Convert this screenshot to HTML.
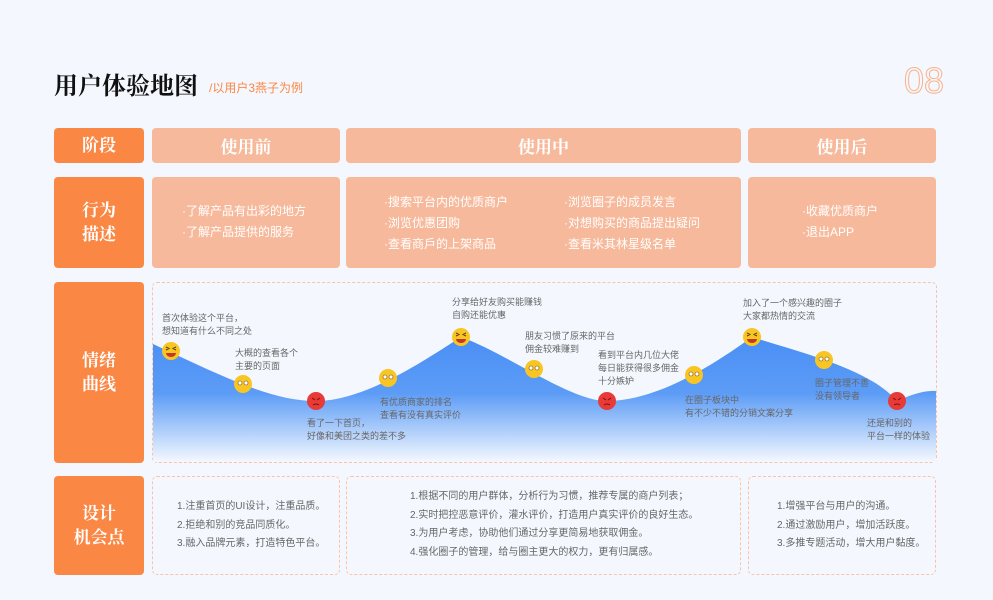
<!DOCTYPE html>
<html><head><meta charset="utf-8"><style>
*{margin:0;padding:0;box-sizing:border-box}
body{width:993px;height:600px;background:#f4f8fe;position:relative;overflow:hidden;font-family:"Liberation Sans","Noto Sans CJK SC",sans-serif}
.a{position:absolute}
.lab{position:absolute;left:54px;width:90px;background:#fb8744;border-radius:4px;color:#fff;font-family:"Liberation Serif","Noto Serif CJK SC",serif;font-weight:bold;font-size:17px;display:flex;align-items:center;justify-content:center;text-align:center;line-height:24px}
.st{position:absolute;background:#f7b99b;border-radius:4px;color:#fff}
.hd{display:flex;align-items:center;justify-content:center;font-family:"Liberation Serif","Noto Serif CJK SC",serif;font-weight:bold;font-size:17px}
.tx{position:absolute;font-size:12px;line-height:21px;color:#fff;white-space:nowrap}
.dash{position:absolute;border:1.5px dashed #f9c3a6;border-radius:5px}
.c{position:absolute;font-size:9px;line-height:13px;color:#666;white-space:nowrap}
.d{position:absolute;font-size:10px;line-height:18.5px;color:#666;white-space:nowrap}
</style></head><body>
<div class="a" style="left:54px;top:66px;font-family:'Liberation Serif','Noto Serif CJK SC',serif;font-weight:bold;font-size:24px;color:#111">用户体验地图</div>
<div class="a" style="left:209px;top:79px;font-size:12px;color:#fb8744">/以用户3燕子为例</div>
<div class="a" style="left:904px;top:60px;font-size:36px;font-weight:normal;color:#f4f8fe;-webkit-text-stroke:1px #f9b28b">08</div>

<div class="lab" style="top:128px;height:35px">阶段</div>
<div class="st hd" style="left:152px;top:128px;width:188px;height:35px">使用前</div>
<div class="st hd" style="left:346px;top:128px;width:395px;height:35px">使用中</div>
<div class="st hd" style="left:748px;top:128px;width:188px;height:35px">使用后</div>

<div class="lab" style="top:177px;height:91px">行为<br>描述</div>
<div class="st" style="left:152px;top:177px;width:188px;height:91px"></div>
<div class="st" style="left:346px;top:177px;width:395px;height:91px"></div>
<div class="st" style="left:748px;top:177px;width:188px;height:91px"></div>
<div class="tx" style="left:182px;top:201px">·了解产品有出彩的地方<br>·了解产品提供的服务</div>
<div class="tx" style="left:384px;top:192px">·搜索平台内的优质商户<br>·浏览优惠团购<br>·查看商戶的上架商品</div>
<div class="tx" style="left:564px;top:192px">·浏览圈子的成员发言<br>·对想购买的商品提出疑问<br>·查看米其林星级名单</div>
<div class="tx" style="left:802px;top:201px">·收藏优质商户<br>·退出APP</div>

<div class="lab" style="top:282px;height:181px">情绪<br>曲线</div>
<div class="dash" style="left:152px;top:282px;width:785px;height:181px"></div>
<svg class="a" style="left:0;top:0" width="993" height="600">
<defs><linearGradient id="g" gradientUnits="userSpaceOnUse" x1="0" y1="337" x2="0" y2="462">
<stop offset="0" stop-color="#4a8ff5"/><stop offset="0.45" stop-color="#5c9cf6"/><stop offset="1" stop-color="#f4f8fe"/></linearGradient></defs>
<path d="M153,344 C220,375 270,401 316,401 C365,401 425,360 461,337 C510,355 570,401 607,401 C660,401 720,360 752,337 C810,355 870,370 897,401 C910,395 925,390 936,391 L936,462 L153,462 Z" fill="url(#g)"/>
</svg>
<svg class="a" style="left:0;top:0" width="993" height="600">
<g fill="#f9c523">
<circle cx="171" cy="351" r="9"/><circle cx="243" cy="384" r="9"/><circle cx="388" cy="378" r="9"/><circle cx="461" cy="337" r="9"/><circle cx="534" cy="369" r="9"/><circle cx="694" cy="375" r="9"/><circle cx="752" cy="337" r="9"/><circle cx="824" cy="360" r="9"/>
</g>
<g fill="#e83a36"><circle cx="316" cy="401" r="9"/><circle cx="607" cy="401" r="9"/><circle cx="897" cy="401" r="9"/></g>
<g fill="#fff" stroke="#6b4a1a" stroke-width="0.6">
<circle cx="240" cy="383" r="2"/><circle cx="246" cy="383" r="2"/>
<circle cx="385" cy="377" r="2"/><circle cx="391" cy="377" r="2"/>
<circle cx="531" cy="368" r="2"/><circle cx="537" cy="368" r="2"/>
<circle cx="691" cy="374" r="2"/><circle cx="697" cy="374" r="2"/>
<circle cx="821" cy="359" r="2"/><circle cx="827" cy="359" r="2"/>
</g>
<g fill="#c0392b">
<path d="M166,353 h10 a5,4 0 0 1 -10,0z"/><path d="M456,339 h10 a5,4 0 0 1 -10,0z"/><path d="M747,339 h10 a5,4 0 0 1 -10,0z"/>
</g>
<g stroke="#5a3a10" stroke-width="1" fill="none">
<path d="M166,347 l3,1.5 -3,1.5 M176,347 l-3,1.5 3,1.5"/>
<path d="M456,333 l3,1.5 -3,1.5 M466,333 l-3,1.5 3,1.5"/>
<path d="M747,333 l3,1.5 -3,1.5 M757,333 l-3,1.5 3,1.5"/>
</g>
<g stroke="#7a1010" stroke-width="1" fill="none">
<path d="M312,398 l3,2 M320,398 l-3,2 M313,405 q3,-2 6,0"/>
<path d="M603,398 l3,2 M611,398 l-3,2 M604,405 q3,-2 6,0"/>
<path d="M893,398 l3,2 M901,398 l-3,2 M894,405 q3,-2 6,0"/>
</g>
</svg>
<div class="c" style="left:162px;top:312px">首次体验这个平台，<br>想知道有什么不同之处</div>
<div class="c" style="left:235px;top:347px">大概的查看各个<br>主要的页面</div>
<div class="c" style="left:307px;top:417px">看了一下首页，<br>好像和美团之类的差不多</div>
<div class="c" style="left:380px;top:396px">有优质商家的排名<br>查看有没有真实评价</div>
<div class="c" style="left:452px;top:296px">分享给好友购买能赚钱<br>自购还能优惠</div>
<div class="c" style="left:525px;top:330px">朋友习惯了原来的平台<br>佣金较难赚到</div>
<div class="c" style="left:598px;top:349px">看到平台内几位大佬<br>每日能获得很多佣金<br>十分嫉妒</div>
<div class="c" style="left:685px;top:394px">在圈子板块中<br>有不少不错的分销文案分享</div>
<div class="c" style="left:743px;top:297px">加入了一个感兴趣的圈子<br>大家都热情的交流</div>
<div class="c" style="left:815px;top:377px">圈子管理不善<br>没有领导者</div>
<div class="c" style="left:867px;top:417px">还是和别的<br>平台一样的体验</div>

<div class="lab" style="top:476px;height:99px">设计<br>机会点</div>
<div class="dash" style="left:152px;top:476px;width:188px;height:99px"></div>
<div class="dash" style="left:346px;top:476px;width:395px;height:99px"></div>
<div class="dash" style="left:748px;top:476px;width:188px;height:99px"></div>
<div class="d" style="left:177px;top:498px">1.注重首页的UI设计，注重品质。<br>2.拒绝和别的竞品同质化。<br>3.融入品牌元素，打造特色平台。</div>
<div class="d" style="left:410px;top:488px">1.根据不同的用户群体，分析行为习惯，推荐专属的商户列表；<br>2.实时把控恶意评价，灌水评价，打造用户真实评价的良好生态。<br>3.为用户考虑，协助他们通过分享更简易地获取佣金。<br>4.强化圈子的管理，给与圈主更大的权力，更有归属感。</div>
<div class="d" style="left:777px;top:498px">1.增强平台与用户的沟通。<br>2.通过激励用户，增加活跃度。<br>3.多推专题活动，增大用户黏度。</div>
</body></html>
